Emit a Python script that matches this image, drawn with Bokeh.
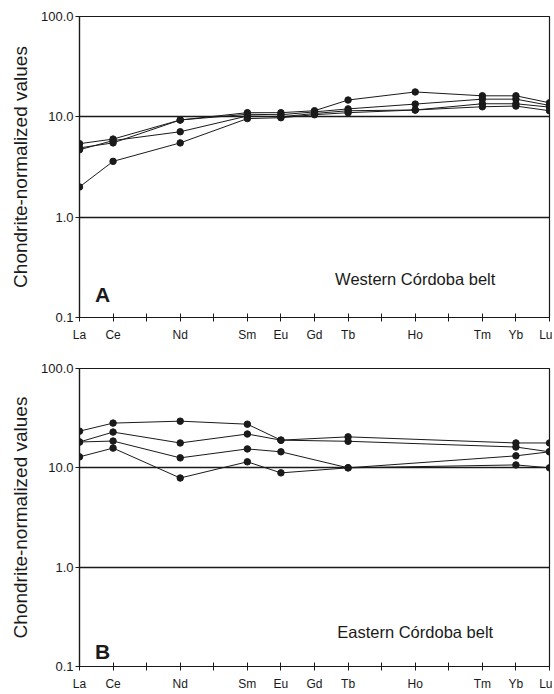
from bokeh.plotting import figure
from bokeh.layouts import column
from bokeh.models import FixedTicker, CustomJSTickFormatter, Label
from bokeh.embed import file_html
from bokeh.resources import INLINE

# ---------------- data ----------------
ree = ["La", "Ce", "Pr", "Nd", "Pm", "Sm", "Eu", "Gd", "Tb", "Dy", "Ho", "Er", "Tm", "Yb", "Lu"]
tick_labels = ["La", "Ce", "", "Nd", "", "Sm", "Eu", "Gd", "Tb", "", "Ho", "", "Tm", "Yb", "Lu"]
y_ticks = [0.1, 1.0, 10.0, 100.0]

west_elements = ["La", "Ce", "Nd", "Sm", "Eu", "Gd", "Tb", "Ho", "Tm", "Yb", "Lu"]
west_s1 = [5.4, 6.0, 9.3, 11.0, 11.0, 11.5, 14.7, 17.7, 16.2, 16.2, 13.8]
west_s2 = [4.9, 5.5, 9.3, 10.6, 10.5, 11.2, 12.0, 13.4, 15.0, 15.0, 13.0]
west_s3 = [4.7, 5.8, 7.1, 10.2, 10.0, 10.8, 11.5, 11.7, 13.5, 13.5, 12.5]
west_s4 = [2.0, 3.6, 5.5, 9.6, 9.8, 10.5, 11.0, 11.7, 12.6, 12.8, 11.5]

east_elements = ["La", "Ce", "Nd", "Sm", "Eu", "Tb", "Yb", "Lu"]
east_s1 = [23.4, 28.2, 29.5, 27.5, 19.0, 20.5, 17.8, 17.8]
east_s2 = [18.2, 22.9, 17.8, 21.9, 19.0, 18.5, 16.2, 14.5]
east_s3 = [18.2, 18.6, 12.6, 15.5, 14.5, 10.0, 13.2, 14.5]
east_s4 = [12.9, 15.8, 7.9, 11.5, 8.9, 10.0, 10.7, 10.0]

FONT = "Liberation Sans"
INK = "#1a1a1a"


def make_panel(elements, series, letter, title, height, top, bottom):
    p = figure(width=552, height=height, y_axis_type="log",
               x_range=(0, len(ree) - 1), y_range=(0.1, 100),
               output_backend="svg", toolbar_location=None,
               min_border_left=79, min_border_right=3,
               min_border_top=top, min_border_bottom=bottom)
    p.background_fill_color = "white"
    p.border_fill_color = "white"
    p.outline_line_color = INK
    p.outline_line_width = 1.2

    xs = [ree.index(e) for e in elements]
    for s in series:
        p.line(xs, s, line_color=INK, line_width=1)
        p.scatter(xs, s, size=6.5, color=INK)

    # x axis
    p.xaxis.ticker = FixedTicker(ticks=list(range(len(ree))))
    p.xaxis.major_label_overrides = {i: t for i, t in enumerate(tick_labels)}
    p.xaxis.minor_tick_line_color = None
    p.xaxis.major_tick_in = 4
    p.xaxis.major_tick_out = 4
    p.xaxis.major_label_standoff = 6
    p.xaxis.major_label_text_font = FONT
    p.xaxis.major_label_text_font_size = "12px"
    p.xaxis.major_label_text_color = INK
    p.xaxis.axis_line_color = INK
    p.xaxis.axis_line_width = 1.2
    p.xaxis.major_tick_line_color = INK

    # y axis
    p.yaxis.ticker = FixedTicker(ticks=y_ticks)
    p.yaxis.formatter = CustomJSTickFormatter(code="return tick.toFixed(1);")
    p.yaxis.minor_tick_line_color = None
    p.yaxis.major_tick_in = 0
    p.yaxis.major_tick_out = 4
    p.yaxis.major_label_standoff = 2
    p.yaxis.major_label_text_font = FONT
    p.yaxis.major_label_text_font_size = "13px"
    p.yaxis.major_label_text_color = INK
    p.yaxis.axis_line_color = INK
    p.yaxis.axis_line_width = 1.2
    p.yaxis.major_tick_line_color = INK
    p.yaxis.axis_label = "Chondrite-normalized values"
    p.yaxis.axis_label_text_font = FONT
    p.yaxis.axis_label_text_font_style = "normal"
    p.yaxis.axis_label_text_font_size = "19px"
    p.yaxis.axis_label_text_color = INK
    p.yaxis.axis_label_standoff = 7

    # grid
    p.xgrid.grid_line_color = None
    p.ygrid.ticker = FixedTicker(ticks=[1.0, 10.0])
    p.ygrid.grid_line_color = INK
    p.ygrid.grid_line_width = 1.6

    p.add_layout(Label(x=0.69, y=0.17 if letter == "A" else 0.14, text=letter,
                       text_font=FONT, text_font_style="bold", text_font_size="21px",
                       text_color=INK, text_align="center", text_baseline="middle"))
    p.add_layout(Label(x=10.0, y=0.24 if letter == "A" else 0.224, text=title,
                       text_font=FONT, text_font_size="16.5px", text_color=INK,
                       text_align="center", text_baseline="middle"))
    return p


pa = make_panel(west_elements, [west_s1, west_s2, west_s3, west_s4], "A",
                "Western Córdoba belt", 345, 16, 28)
pb = make_panel(east_elements, [east_s1, east_s2, east_s3, east_s4], "B",
                "Eastern Córdoba belt", 348, 23, 24)

layout = column(pa, pb)
open("out.html", "w").write(file_html(layout, INLINE))
